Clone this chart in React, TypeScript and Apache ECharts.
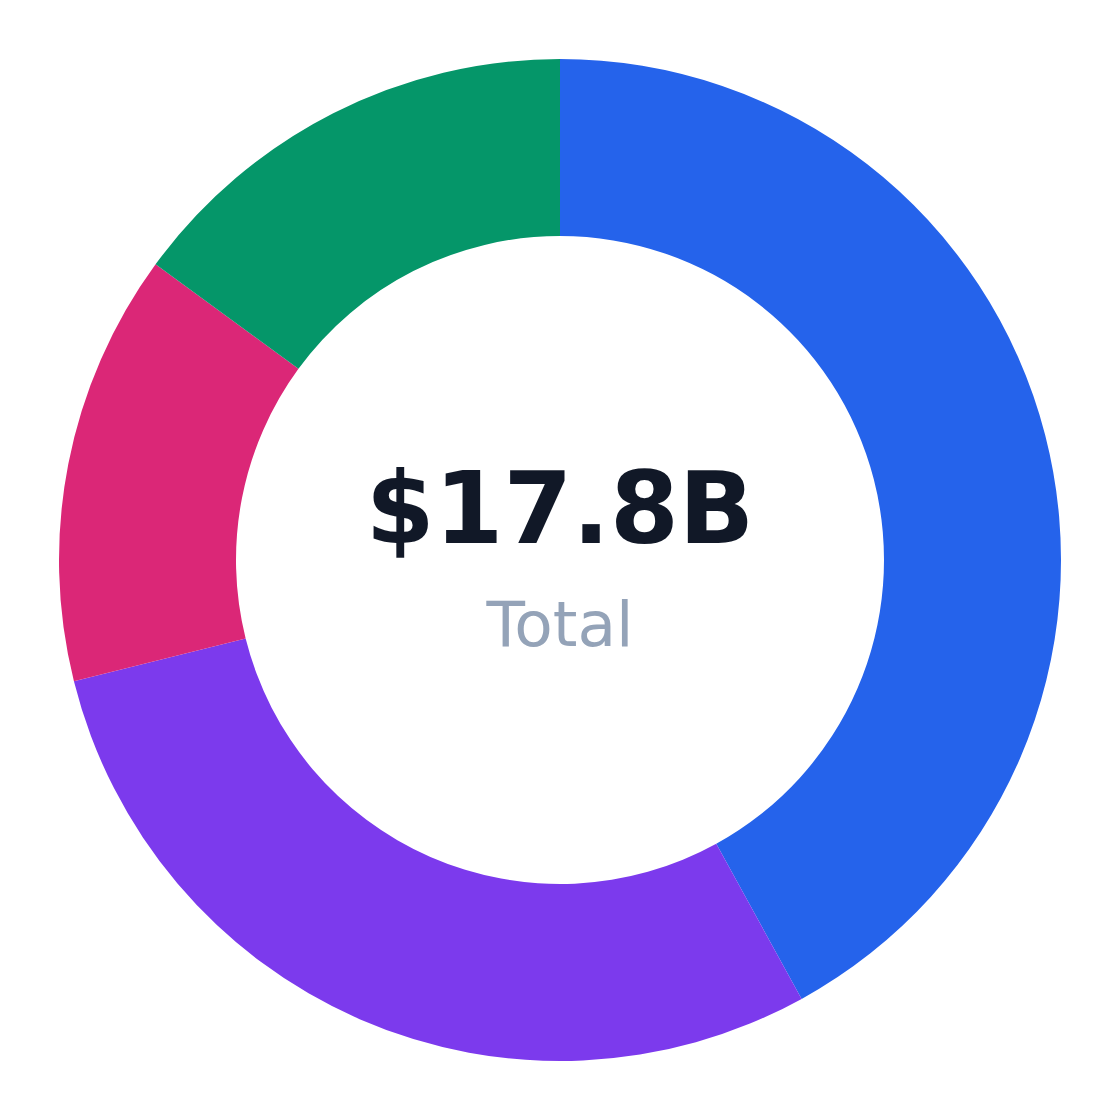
import React, { useEffect, useRef } from "react";
import * as echarts from "echarts";

const categories = ["Segment A", "Segment B", "Segment C", "Segment D"];
const values = [7.47, 5.18, 2.48, 2.66];
const colors = ["#2563eb", "#7c3aed", "#db2777", "#059669"];
const centerValue = "$17.8B";
const centerLabel = "Total";

export default function App() {
  const ref = useRef<HTMLDivElement>(null);
  useEffect(() => {
    if (!ref.current) return;
    const chart = echarts.init(ref.current, undefined, { renderer: "svg" });
    chart.setOption({
      animation: false,
      backgroundColor: "#ffffff",
      graphic: [
        {
          type: "text",
          left: "center",
          top: 451,
          style: {
            text: centerValue,
            fontSize: 99,
            fontWeight: "bold",
            fontFamily: "DejaVu Sans",
            fill: "#111827",
          },
        },
        {
          type: "text",
          left: "center",
          top: 585,
          style: {
            text: centerLabel,
            fontSize: 63,
            fontFamily: "DejaVu Sans",
            fill: "#94a3b8",
          },
        },
      ],
      series: [
        {
          type: "pie",
          center: [552, 552],
          radius: [324, 501],
          startAngle: 90,
          clockwise: true,
          label: { show: false },
          labelLine: { show: false },
          emphasis: { disabled: true },
          itemStyle: { borderWidth: 0 },
          data: categories.map((c, i) => ({
            name: c,
            value: values[i],
            itemStyle: { color: colors[i] },
          })),
        },
      ],
    });
    return () => chart.dispose();
  }, []);
  return <div ref={ref} style={{ width: 1104, height: 1104 }} />;
}
